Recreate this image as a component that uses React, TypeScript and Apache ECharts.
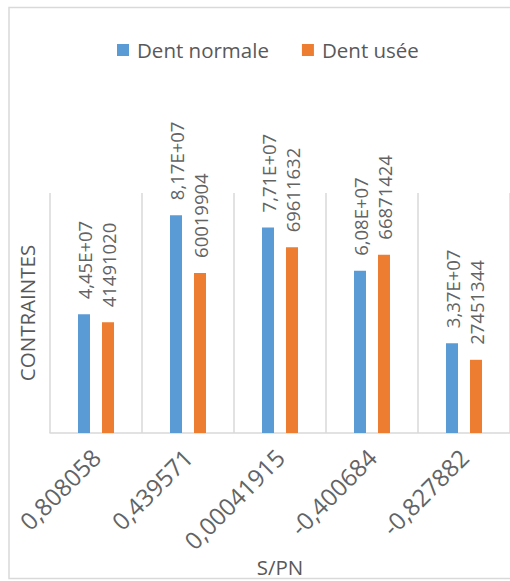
import React, { useEffect, useRef } from "react";
import * as echarts from "echarts";

const categories = ["0,808058", "0,439571", "0,00041915", "-0,400684", "-0,827882"];
const dentNormale = [4.45e7, 8.17e7, 7.71e7, 6.08e7, 3.37e7];
const dentUsee = [41491020, 60019904, 69611632, 66871424, 27451344];
const seriesNames = ["Dent normale", "Dent usée"];

const FONT = "'Open Sans', sans-serif";
const TXT = "#595959";
const LINE = "#d9d9d9";

function sci(v: number): string {
  const e = Math.floor(Math.log10(v));
  const m = v / Math.pow(10, e);
  const ex = (e < 10 ? "0" : "") + e;
  return m.toFixed(2).replace(".", ",") + "E+" + ex;
}

export default function App() {
  const ref = useRef<HTMLDivElement>(null);
  useEffect(() => {
    if (!ref.current) return;
    const chart = echarts.init(ref.current, null, { renderer: "svg" });
    const labelBase = {
      show: true,
      position: "top" as const,
      rotate: 90,
      align: "left" as const,
      verticalAlign: "middle" as const,
      distance: 15,
      fontFamily: FONT,
      fontSize: 18.5,
      color: "#636363",
    };
    chart.setOption({
      animation: false,
      backgroundColor: "#ffffff",
      graphic: [
        {
          type: "rect",
          shape: { x: 9, y: 7.5, width: 540, height: 571 },
          style: { fill: "none", stroke: LINE, lineWidth: 1.5 },
          silent: true,
        },
      ],
      legend: {
        left: 112,
        top: 33,
        itemWidth: 12,
        itemHeight: 12,
        itemGap: 33,
        icon: "rect",
        data: seriesNames,
        textStyle: {
          fontFamily: FONT,
          fontSize: 20.5,
          color: TXT,
          lineHeight: 24,
          padding: [0, 0, 0, 3],
        },
      },
      grid: { left: 50, right: -5, top: 193, bottom: 148, containLabel: false },
      xAxis: {
        type: "category",
        data: categories,
        name: "S/PN",
        nameLocation: "middle",
        nameGap: 122,
        nameTextStyle: { fontFamily: FONT, fontSize: 20.5, color: TXT, verticalAlign: "top" },
        axisLine: { show: true, lineStyle: { color: LINE, width: 1.5 } },
        axisTick: { show: false },
        splitLine: { show: true, interval: 0, lineStyle: { color: LINE, width: 1.5 } },
        axisLabel: {
          interval: 0,
          rotate: 45,
          margin: 20,
          fontFamily: FONT,
          fontSize: 24,
          color: "#636363",
        },
      },
      yAxis: {
        type: "value",
        min: 0,
        max: 9e7,
        name: "CONTRAINTES",
        nameLocation: "middle",
        nameRotate: 90,
        nameGap: 13,
        nameTextStyle: { fontFamily: FONT, fontSize: 20.5, color: TXT },
        axisLine: { show: false },
        axisTick: { show: false },
        axisLabel: { show: false },
        splitLine: { show: false },
      },
      series: [
        {
          name: seriesNames[0],
          type: "bar",
          data: dentNormale,
          barWidth: 12,
          barGap: "100%",
          itemStyle: { color: "#5b9bd5" },
          label: { ...labelBase, formatter: (p: any) => sci(p.value) },
        },
        {
          name: seriesNames[1],
          type: "bar",
          data: dentUsee,
          barWidth: 12,
          itemStyle: { color: "#ed7d31" },
          label: { ...labelBase, formatter: (p: any) => String(p.value) },
        },
      ],
    });
    return () => chart.dispose();
  }, []);
  return (
    <div
      ref={ref}
      style={{ position: "fixed", left: 0, top: 0, width: 510, height: 581, background: "#fff" }}
    />
  );
}
